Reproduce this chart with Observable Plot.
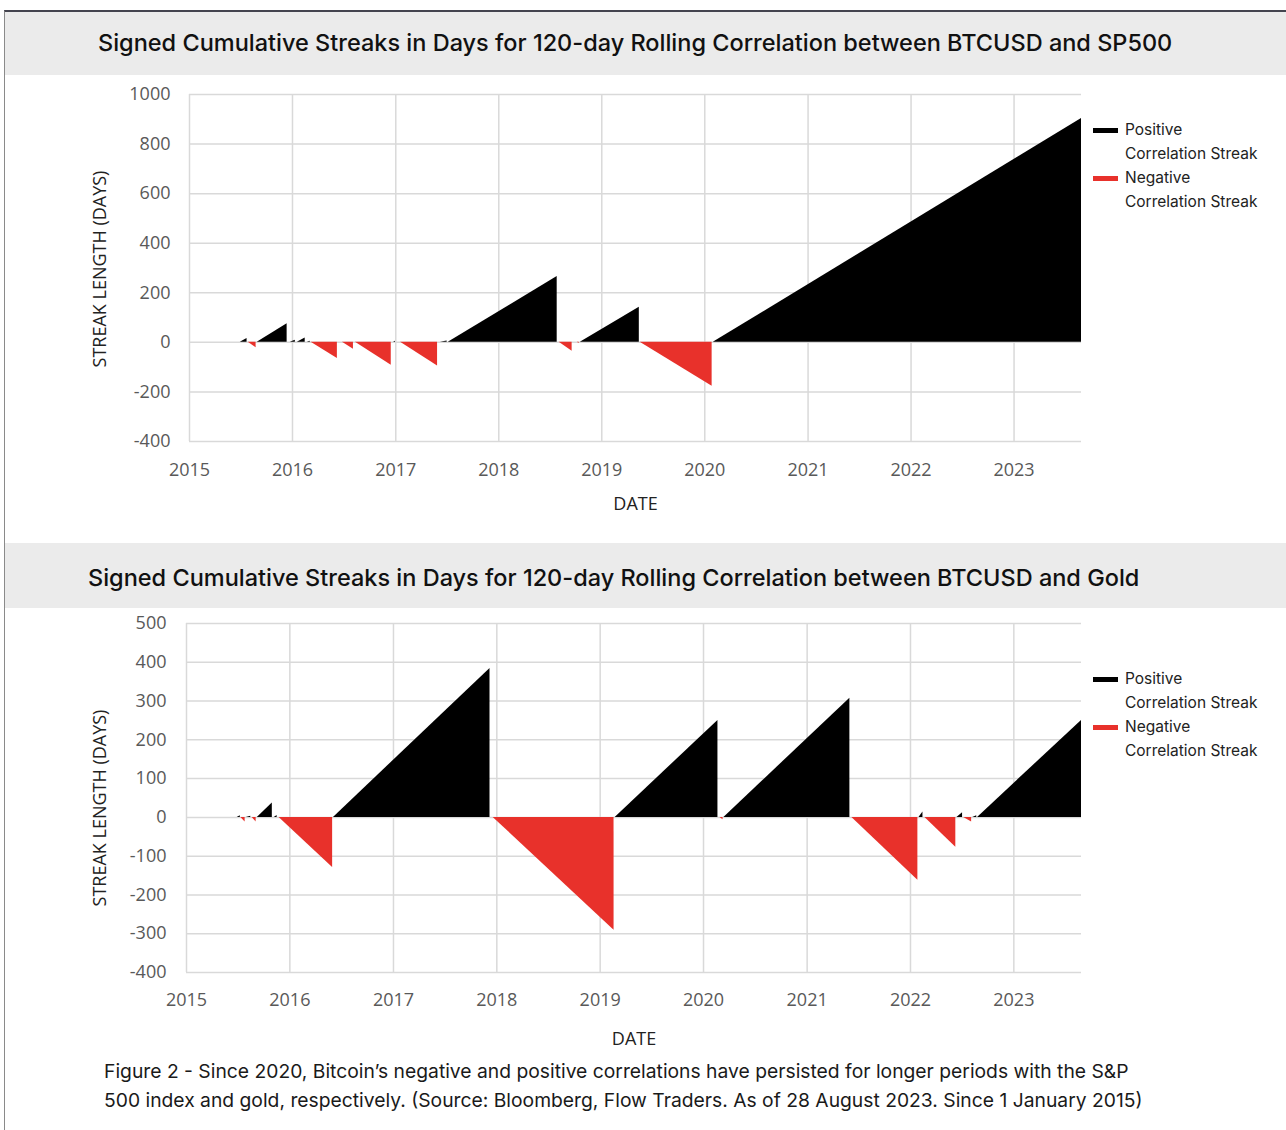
<!DOCTYPE html>
<html>
<head>
<meta charset="utf-8">
<script src="https://cdn.jsdelivr.net/npm/d3@7"></script>
<script src="https://cdn.jsdelivr.net/npm/@observablehq/plot@0.6"></script>
<style>
  html, body { margin: 0; padding: 0; background: #fff; }
  body { width: 1286px; height: 1130px; position: relative; overflow: hidden; font-family: Inter, "DejaVu Sans", sans-serif; }
  .frame { position: absolute; left: 4px; top: 10px; width: 1300px; height: 1140px; border-left: 1px solid #8a8a8a; border-top: 2px solid #44444f; box-sizing: border-box; }
  .band { position: absolute; left: 5px; width: 1281px; background: #ebebeb; }
  .title { position: absolute; white-space: nowrap; font-size: 23.5px; color: #111; font-weight: 500; }
  .chart { position: absolute; left: 5px; }
  .legend { position: absolute; left: 1093px; font-size: 15.5px; color: #222; line-height: 24px; }
  .legend .row { position: relative; padding-left: 32px; white-space: nowrap; }
  .legend .sw { position: absolute; left: 0; top: 10px; width: 25px; height: 5px; }
  .caption { position: absolute; left: 104px; top: 1057px; font-size: 19.3px; color: #1a1a1a; line-height: 29px; white-space: nowrap; }
</style>
</head>
<body>
<div class="frame"></div>
<div class="band" style="top:12px;height:63px"></div>
<div class="title" id="t1" style="left:98px;top:28px">Signed Cumulative Streaks in Days for 120-day Rolling Correlation between BTCUSD and SP500</div>
<div class="chart" id="c1" style="top:76px"></div>
<div class="legend" style="top:118px">
  <div class="row"><span class="sw" style="background:#000"></span>Positive</div>
  <div class="row">Correlation Streak</div>
  <div class="row"><span class="sw" style="background:#e8312b"></span>Negative</div>
  <div class="row">Correlation Streak</div>
</div>
<div class="band" style="top:543px;height:65px"></div>
<div class="title" id="t2" style="left:88px;top:563px">Signed Cumulative Streaks in Days for 120-day Rolling Correlation between BTCUSD and Gold</div>
<div class="chart" id="c2" style="top:609px"></div>
<div class="legend" style="top:667px">
  <div class="row"><span class="sw" style="background:#000"></span>Positive</div>
  <div class="row">Correlation Streak</div>
  <div class="row"><span class="sw" style="background:#e8312b"></span>Negative</div>
  <div class="row">Correlation Streak</div>
</div>
<div class="caption">Figure 2 - Since 2020, Bitcoin’s negative and positive correlations have persisted for longer periods with the S&amp;P<br>500 index and gold, respectively. (Source: Bloomberg, Flow Traders. As of 28 August 2023. Since 1 January 2015)</div>

<script>
// ---- Data: BTCUSD vs SP500 streaks (start date, end date, signed length in days)
const sp500Start = ["2015-06-30","2015-07-28","2015-08-29","2015-12-24","2016-01-18","2016-02-22","2016-03-07","2016-06-26","2016-08-11","2016-12-24","2017-01-18","2017-06-08","2017-07-06","2018-08-03","2018-10-06","2018-10-17","2019-05-17","2020-01-31"];
const sp500End   = ["2015-07-24","2015-08-25","2015-12-13","2016-01-11","2016-02-15","2016-03-04","2016-06-08","2016-08-04","2016-12-16","2016-12-31","2017-05-29","2017-07-02","2018-07-27","2018-09-18","2018-10-13","2019-05-14","2020-01-27","2023-08-28"];
const sp500Peak  = [16, -22, 75, 8, 18, 4, -65, -28, -92, 4, -95, 5, 266, -36, -5, 142, -177, 903];

// ---- Data: BTCUSD vs Gold streaks
const goldStart = ["2015-06-29","2015-07-12","2015-07-31","2015-08-21","2015-09-08","2015-11-07","2015-11-24","2016-06-03","2017-12-19","2019-02-23","2020-02-28","2020-03-13","2021-06-08","2022-01-31","2022-02-21","2022-06-14","2022-07-08","2022-08-09","2022-08-26"];
const goldEnd   = ["2015-07-10","2015-07-27","2015-08-16","2015-09-04","2015-10-31","2015-11-17","2016-05-31","2017-12-08","2019-02-19","2020-02-21","2020-03-10","2021-06-01","2022-01-27","2022-02-14","2022-06-10","2022-07-04","2022-08-05","2022-08-23","2023-08-28"];
const goldPeak  = [4, -12, 3, -12, 37, 5, -129, 384, -291, 250, -6, 307, -162, 14, -77, 12, -12, 4, 250];

const yearTicks = ["2015","2016","2017","2018","2019","2020","2021","2022","2023"];
const sp500YTicks = [-400, -200, 0, 200, 400, 600, 800, 1000];
const goldYTicks = [-400, -300, -200, -100, 0, 100, 200, 300, 400, 500];

const RED = "#e8312b";
const GRID = "#d9d9d9";
const TICK = "#595959";
const xDomain = [new Date("2015-01-01"), new Date("2023-08-28")];

function rowsFrom(starts, ends, peaks) {
  const rows = [];
  starts.forEach((s, i) => {
    rows.push({id: i, date: new Date(s), v: 0, pos: peaks[i] > 0});
    rows.push({id: i, date: new Date(ends[i]), v: peaks[i], pos: peaks[i] > 0});
  });
  return rows;
}

function makeChart(o) {
  const rows = rowsFrom(o.starts, o.ends, o.peaks);
  const xt = yearTicks.map(y => new Date(y + "-01-01"));
  return Plot.plot({
    width: 1281,
    height: o.height,
    marginLeft: o.ml,
    marginRight: 205,
    marginTop: o.mt,
    marginBottom: o.mb,
    style: {fontFamily: "'Open Sans', sans-serif", background: "transparent"},
    x: {type: "utc", domain: xDomain},
    y: {domain: o.yDomain},
    marks: [
      Plot.gridX(xt, {stroke: GRID, strokeOpacity: 1, strokeWidth: 1.5}),
      Plot.gridY(o.yTicks, {stroke: GRID, strokeOpacity: 1, strokeWidth: 1.5}),
      Plot.areaY(rows.filter(d => d.pos), {x: "date", y: "v", z: "id", fill: "#000"}),
      Plot.areaY(rows.filter(d => !d.pos), {x: "date", y: "v", z: "id", fill: RED}),
      Plot.axisX(xt, {tickSize: 0, tickPadding: o.xPad, tickFormat: d3.utcFormat("%Y"), fontSize: 18, fill: TICK, label: null}),
      Plot.axisY(o.yTicks, {tickSize: 0, tickPadding: o.yPad, tickFormat: d => String(d), fontSize: 18, fill: TICK, label: null}),
      Plot.text(["DATE"], {frameAnchor: "bottom", textAnchor: "middle", lineAnchor: "middle", dy: o.dateDy, fontSize: 18, fill: "#222"}),
      Plot.text(["STREAK LENGTH (DAYS)"], {frameAnchor: "left", textAnchor: "middle", lineAnchor: "middle", rotate: -90, dx: o.labDx, dy: o.labDy, fontSize: 18, fill: "#222"})
    ]
  });
}

document.getElementById("c1").append(makeChart({
  starts: sp500Start, ends: sp500End, peaks: sp500Peak,
  height: 466, ml: 184, mt: 18, mb: 101,
  yDomain: [-400, 1000], yTicks: sp500YTicks,
  xPad: 22, yPad: 19, dateDy: 63, labDx: -89, labDy: 1
}));
document.getElementById("c2").append(makeChart({
  starts: goldStart, ends: goldEnd, peaks: goldPeak,
  height: 446, ml: 181, mt: 14, mb: 83,
  yDomain: [-400, 500], yTicks: goldYTicks,
  xPad: 21, yPad: 20, dateDy: 67, labDx: -86, labDy: 10
}));
</script>
</body>
</html>
